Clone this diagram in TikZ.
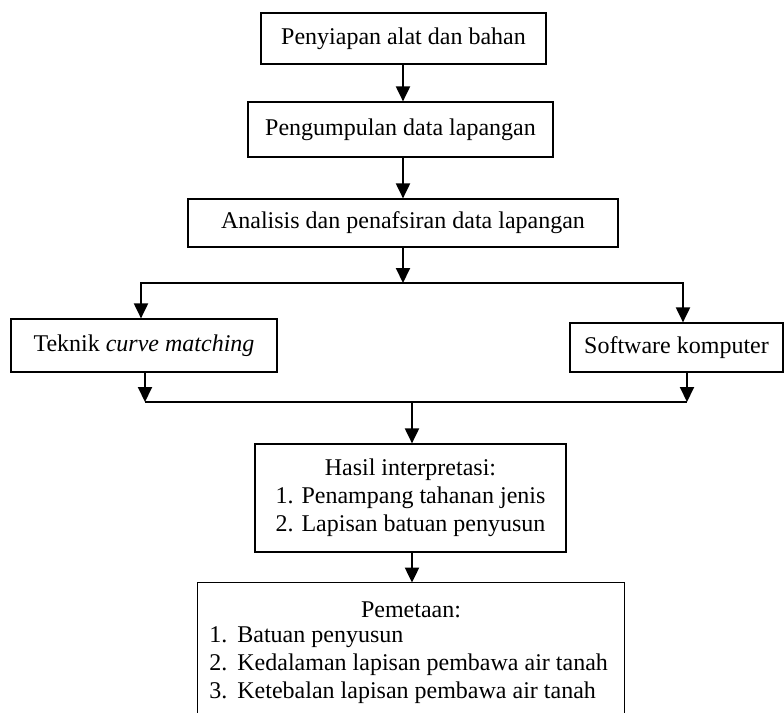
\documentclass[tikz,border=0pt]{standalone}
\usepackage{fontspec}
\setmainfont{Liberation Serif}
\usetikzlibrary{arrows.meta}

\begin{document}
\begin{tikzpicture}[x=0.5pt, y=-0.5pt,
    txt/.style={inner sep=0pt, font=\fontsize{12}{14}\selectfont},
    box/.style={txt, draw, line width=0.6pt, align=center},
    arr/.style={line width=1pt, -{Triangle[length=7.5pt,width=7pt]}},
    ln/.style={line width=1pt}]

      \useasboundingbox (0,0) rectangle (784,713);

      \node[box, minimum width=142.5pt, minimum height=25.5pt] (alat) at (403.5,38.5) {Penyiapan alat dan bahan};
      \node[box, minimum width=152.5pt, minimum height=27.5pt] (data) at (400.5,129.5) {Pengumpulan data lapangan};
      \node[box, minimum width=215pt, minimum height=24pt] (anls) at (403,223) {Analisis dan penafsiran data lapangan};

      \node[box, minimum width=133pt, minimum height=26.5pt] (tekn) at (144,345.5) {Teknik \textit{curve matching}};
      \node[box, minimum width=106.5pt, minimum height=24.5pt] (soft) at (676.5,347.5) {Software komputer};

      \node[box, minimum width=155.5pt, minimum height=54pt] (hasil) at (410.5,498) {Hasil interpretasi:\\1. Penampang tahanan jenis\\2. Lapisan batuan penyusun};

      \node[txt, minimum width=213pt, minimum height=65pt] (peta) at (411,648) {};
      \draw[line width=0.6pt] (peta.south west) |- (peta.north east) -- (peta.south east);
      \node[txt] (petaT) at (411,610) {Pemetaan:};
      \node[txt, anchor=west, align=left] (petaL) at (209,665) {\makebox[14pt][l]{1.}Batuan penyusun\\
        \makebox[14pt][l]{2.}Kedalaman lapisan pembawa air tanah\\
        \makebox[14pt][l]{3.}Ketebalan lapisan pembawa air tanah};

      \coordinate (splM) at (403,283);
      \coordinate (splL) at (141,283);
      \coordinate (splR) at (683,283);
      \coordinate (mrgL) at (145,402);
      \coordinate (mrgR) at (687,402);
      \coordinate (mrgM) at (412,402);

      \draw[arr] (alat.south -| splM) -- (splM |- data.north);
      \draw[arr] (data.south -| splM) -- (splM |- anls.north);
      \draw[arr] (anls.south -| splM) -- (splM);

      \draw[arr] (splM) -| (splL |- tekn.north);
      \draw[arr] (splM) -| (splR |- soft.north);

      \draw[arr] (tekn.south -| mrgL) -- (mrgL);
      \draw[arr] (soft.south -| mrgR) -- (mrgR);
      \draw[ln] (mrgL) -- (mrgR);

      \draw[arr] (mrgM) -- (mrgM |- hasil.north);
      \draw[arr] (hasil.south -| mrgM) -- (mrgM |- peta.north);

\end{tikzpicture}
\end{document}
